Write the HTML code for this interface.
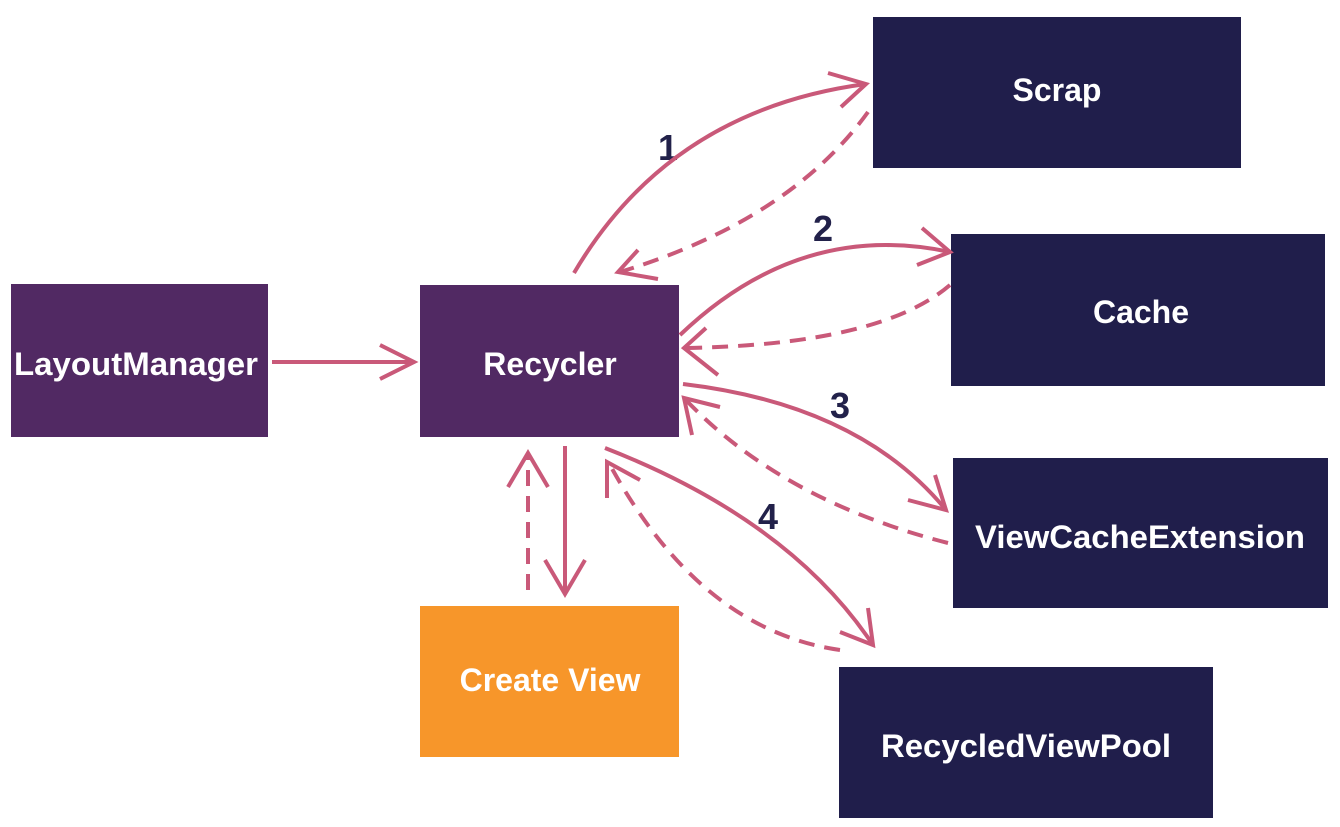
<!DOCTYPE html>
<html><head><meta charset="utf-8"><style>
html,body{margin:0;padding:0;background:#fff;}
svg{display:block;}
text{font-family:"Liberation Sans",sans-serif;font-weight:bold;}
</style></head><body>
<svg width="1340" height="827" viewBox="0 0 1340 827">
<rect x="11" y="284" width="257" height="153" fill="#512963"/>
<rect x="420" y="285" width="259" height="152" fill="#512963"/>
<rect x="873" y="17" width="368" height="151" fill="#201e4b"/>
<rect x="951" y="234" width="374" height="152" fill="#201e4b"/>
<rect x="953" y="458" width="375" height="150" fill="#201e4b"/>
<rect x="839" y="667" width="374" height="151" fill="#201e4b"/>
<rect x="420" y="606" width="259" height="151" fill="#f7962a"/>
<g fill="#fff" font-size="32" text-anchor="middle">
<text x="136" y="375" textLength="244" lengthAdjust="spacingAndGlyphs">LayoutManager</text>
<text x="550" y="375">Recycler</text>
<text x="1057" y="101">Scrap</text>
<text x="1141" y="323">Cache</text>
<text x="1140" y="548" textLength="330" lengthAdjust="spacingAndGlyphs">ViewCacheExtension</text>
<text x="1026" y="757" textLength="290" lengthAdjust="spacingAndGlyphs">RecycledViewPool</text>
<text x="550" y="691">Create View</text>
</g>
<g fill="#22214a" font-size="36" text-anchor="middle">
<text x="668" y="160">1</text>
<text x="823" y="241">2</text>
<text x="840" y="418">3</text>
<text x="768" y="529">4</text>
</g>
<g fill="none" stroke="#c95979" stroke-width="4" stroke-linecap="butt" stroke-linejoin="miter">
<path d="M272 362 L414 362"/><path d="M380 345 L414 362 L380 379"/>
<path d="M574 273 Q670 110 866 84"/><path d="M828 73 L866 84 L841 107"/>
<path d="M868 112 Q790 220 620 272" stroke-dasharray="16 10"/><path d="M638 250 L618 272 L658 279"/>
<path d="M680 335 Q800 220 950 252"/><path d="M922 228 L950 252 L917 265"/>
<path d="M950 285 Q880 345 684 348" stroke-dasharray="16 10"/><path d="M706 328 L684 348 L718 375"/>
<path d="M683 384 Q860 405 946 510"/><path d="M935 475 L946 510 L908 500"/>
<path d="M948 543 Q780 500 684 398" stroke-dasharray="16 10"/><path d="M720 407 L684 398 L692 435"/>
<path d="M605 448 Q790 520 873 645"/><path d="M868 608 L873 645 L840 632"/>
<path d="M840 650 Q700 630 610 465" stroke-dasharray="16 10"/><path d="M607 498 L607 462 L640 480"/>
<path d="M565 446 L565 594"/><path d="M545 560 L565 594 L585 560"/>
<path d="M528 590 L528 455" stroke-dasharray="16 10"/><path d="M508 487 L528 453 L548 487"/>
</g>
</svg>
</body></html>
